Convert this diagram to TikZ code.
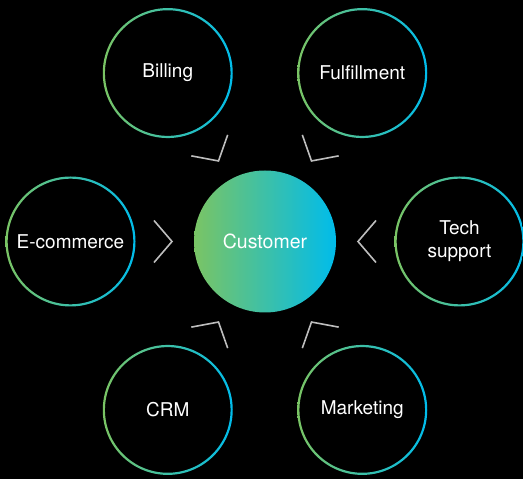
\documentclass[tikz,border=0pt]{standalone}
\usepackage{fontspec}
\setmainfont{TeX Gyre Heros}
\usetikzlibrary{calc}
\definecolor{cgreen}{RGB}{122,196,100}
\definecolor{cblue}{RGB}{0,188,235}
\definecolor{chevgray}{RGB}{190,190,190}
\tikzset{
  outer/.style={circle, minimum size=130pt, inner sep=0pt, text=white, align=center,
    font=\fontsize{19}{23}\selectfont},
  ring/.style={left color=cgreen, right color=cblue, even odd rule},
  chev/.style={draw=chevgray, line width=1.6pt, line cap=butt, line join=miter}
}
\begin{document}
\begin{tikzpicture}[x=1pt,y=1pt]
\fill[black] (0,0) rectangle (523,479);
\useasboundingbox (0,0) rectangle (523,479);
\coordinate (c) at (265,237.5);
% center
\shade[left color=cgreen, right color=cblue] (c) circle (71pt);
\node[text=white, font=\fontsize{19.5}{23}\selectfont] (customer) at (c) {Customer};
% outer nodes
\node[outer] (tech) at ($(c)+(0:194.5)$) {Tech\\support};
\node[outer] (fulfil) at ($(c)+(60:194.5)$) {Fulfillment};
\node[outer] (billing) at ($(c)+(120:194.5)$) {Billing};
\node[outer] (ecom) at ($(c)+(180:194.5)$) {E-commerce};
\node[outer] (crm) at ($(c)+(240:194.5)$) {CRM};
\node[outer] (mkt) at ($(c)+(300:194.5)$) {Marketing};
\foreach \n in {tech,fulfil,billing,ecom,crm,mkt}{
  \shade[ring] (\n.center) circle (65pt) circle (62.8pt);
}
% chevrons
\foreach \a in {0,60,120,180,240,300}{
  \begin{scope}[shift={(c)}, rotate=\a]
    \draw[chev] (111,21) -- (93,0) -- (111,-21);
  \end{scope}
}
\end{tikzpicture}
\end{document}
